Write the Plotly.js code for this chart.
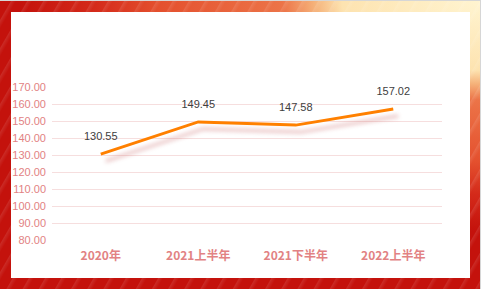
<!DOCTYPE html>
<html>
<head>
<meta charset="utf-8">
<script src="https://cdn.plot.ly/plotly-3.0.1.min.js"></script>
<style>
  html, body { margin: 0; padding: 0; background: #ffffff; }
  #frame {
    position: absolute; left: 0; top: 0; width: 480px; height: 288px;
    border-top: 1px solid #d6d6d6; border-right: 1px solid #d6d6d6; border-bottom: 1px solid #d6d6d6;
    box-sizing: content-box;
    background:
      repeating-linear-gradient(120deg, rgba(255,255,255,0) 0px, rgba(255,255,255,0) 9px, rgba(255,255,255,0.10) 10px, rgba(255,255,255,0) 14px),
      radial-gradient(ellipse 460px 230px at 100% 0%, #fff4d0 0%, #fde3b0 30%, #f5b27a 36%, #ec7448 43%, #e4502e 70%, #d42a1a 84%, #c4120c 100%);
    overflow: hidden;
  }
  #panel { position: absolute; left: 11px; top: 12px; width: 459px; height: 266px; background: #ffffff; }
  #chart { position: absolute; left: 0; top: 0; width: 481px; height: 289px; }
  .scatterlayer .js-line { filter: drop-shadow(5px 7px 2px rgba(205, 110, 110, 0.45)); }
</style>
</head>
<body>
<div id="frame"></div>
<div id="panel"></div>
<div id="chart"></div>
<script>
const categories = ["2020年", "2021上半年", "2021下半年", "2022上半年"];
const values = [130.55, 149.45, 147.58, 157.02];
const yTicks = [80, 90, 100, 110, 120, 130, 140, 150, 160, 170];
const yTickText = yTicks.map(v => v.toFixed(2));

const trace = {
  x: categories,
  y: values,
  type: "scatter",
  mode: "lines+markers+text",
  line: { color: "#ff8000", width: 3 },
  marker: { size: 16, opacity: 0, color: "#ff8000" },
  text: values.map(v => v.toFixed(2)),
  textposition: "top center",
  textfont: { family: "Liberation Sans, Arial, sans-serif", size: 11, color: "#404040" },
  hoverinfo: "none",
  cliponaxis: false
};

const layout = {
  width: 481,
  height: 289,
  margin: { l: 52, r: 39, t: 87, b: 49, pad: 0 },
  paper_bgcolor: "rgba(0,0,0,0)",
  plot_bgcolor: "rgba(0,0,0,0)",
  showlegend: false,
  xaxis: {
    type: "category",
    range: [-0.5, categories.length - 0.5],
    showgrid: false,
    zeroline: false,
    showline: false,
    ticks: "",
    ticklabelstandoff: 7,
    tickfont: { family: "Noto Sans CJK SC, sans-serif", size: 12, color: "#e28283", weight: "bold" },
    fixedrange: true
  },
  yaxis: {
    range: [80, 170],
    tickvals: yTicks,
    ticktext: yTickText,
    showgrid: true,
    gridcolor: "#f6dede",
    gridwidth: 1,
    zeroline: false,
    showline: false,
    ticks: "",
    ticklabelstandoff: 5,
    tickfont: { family: "Liberation Sans, Arial, sans-serif", size: 11, color: "#e28283" },
    fixedrange: true
  },
  shapes: [{
    type: "line", xref: "paper", x0: 0, x1: 1, yref: "y", y0: yTicks[0], y1: yTicks[0],
    line: { color: "#ffffff", width: 3 }, layer: "below"
  }]
};

Plotly.newPlot("chart", [trace], layout, { displayModeBar: false, staticPlot: true });
</script>
</body>
</html>
